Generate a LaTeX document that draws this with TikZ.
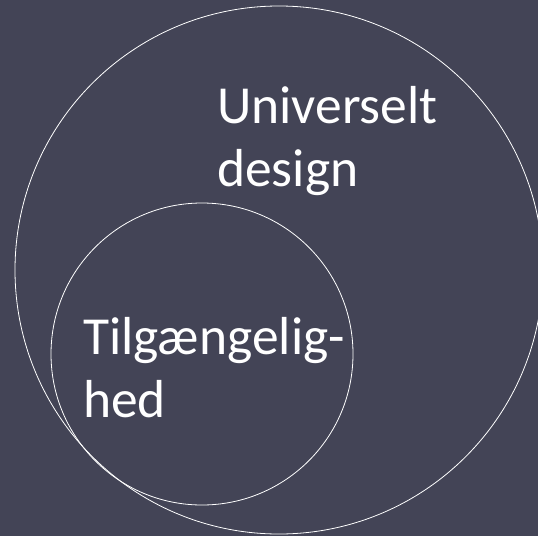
\documentclass[tikz,border=0pt]{standalone}
\usepackage{fontspec}
\setmainfont{Carlito}
\definecolor{bgslate}{RGB}{67,68,86}
\begin{document}
\begin{tikzpicture}[x=1pt,y=-1pt,
  ring/.style={draw=white,line width=0.8pt},
  label/.style={text=white,inner sep=0pt,anchor=base west,font=\fontsize{53.5}{63}\selectfont}]
\fill[bgslate] (0,0) rectangle (538,536);
\useasboundingbox (0,0) rectangle (538,536);
\node[ring,circle,minimum size=528pt,inner sep=0pt] (big) at (279,270) {};
\node[ring,circle,minimum size=302pt,inner sep=0pt] (small) at (202,354) {};
\node[label] (ud1) at (217,123) {Universelt};
\node[label] (ud2) at (217,186) {design};
\node[label] (tg1) at (83,354) {Tilgængelig-};
\node[label] (tg2) at (83,417) {hed};
\end{tikzpicture}
\end{document}
